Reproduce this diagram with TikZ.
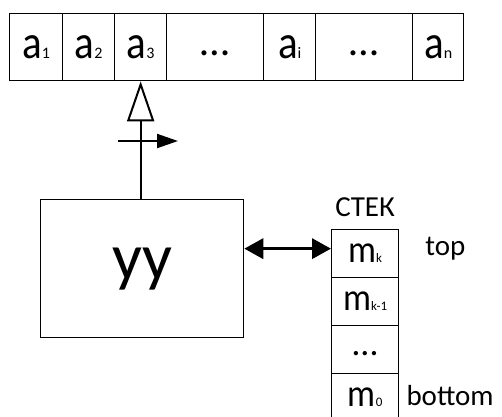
\documentclass[tikz,border=0pt]{standalone}
\usepackage{fontspec}
\setmainfont{Carlito}
\usetikzlibrary{arrows.meta,positioning}
% sized text helper
\newcommand\fsz[2]{{\fontsize{#1}{#1}\selectfont #2}}
% tape symbol: tall letter with small index on the baseline
\newcommand\tapesym[2]{\scalebox{1}[1.15]{\fsz{41}{#1}}\fsz{16}{#2}}
% stack symbol
\newcommand\stacksym[2]{\scalebox{1}[1.1]{\fsz{35}{#1}}\fsz{13}{#2}}
\begin{document}
\begin{tikzpicture}[x=1pt,y=-1pt,
  tapecell/.style={draw, line width=1.3pt, inner sep=0pt, anchor=north west,
    minimum height=67pt, text height=45pt, text depth=22pt},
  stackcell/.style={draw, line width=1.3pt, inner sep=0pt, anchor=north west,
    minimum width=67pt, minimum height=48pt, text height=33pt, text depth=15pt},
  ctrl/.style={draw, line width=1.3pt, inner sep=0pt, anchor=north west,
    minimum width=203pt, minimum height=138pt},
  lbl/.style={inner sep=0pt, font=\fontsize{29}{29}\selectfont},
]
\useasboundingbox (0,0) rectangle (502,416);

% input tape
\node[tapecell, minimum width=53pt] (c1) at (9,13)   {\tapesym{a}{1}};
\node[tapecell, minimum width=52pt] (c2) at (62,13)  {\tapesym{a}{2}};
\node[tapecell, minimum width=52pt] (c3) at (114,13) {\tapesym{a}{3}};
\node[tapecell, minimum width=97pt] (c4) at (166,13) {\raisebox{3.5pt}{\fsz{42}{…}}};
\node[tapecell, minimum width=52pt] (c5) at (263,13) {\tapesym{a}{i}};
\node[tapecell, minimum width=97pt] (c6) at (315,13) {\raisebox{3.5pt}{\fsz{42}{…}}};
\node[tapecell, minimum width=51pt] (c7) at (412,13) {\tapesym{a}{n}};

% control unit
\node[ctrl, font=\fontsize{66}{66}\selectfont] (uu) at (40,199) {уу};

% stack
\node[stackcell] (s1) at (331,229) {\stacksym{m}{k}};
\node[stackcell] (s2) at (331,277) {\stacksym{m}{k-1}};
\node[stackcell] (s3) at (331,325) {\raisebox{3pt}{\fsz{36}{…}}};
\node[stackcell] (s4) at (331,373) {\stacksym{m}{0}};

\node[lbl, above=12pt of s1] (st) {СТЕК};
\node[lbl, anchor=center] (top) at ([xshift=46pt,yshift=5pt]s1.east) {top};
\node[lbl, anchor=west] (bot) at ([xshift=7pt,yshift=2pt]s4.west -| s4.east) {bottom};

% head: reading link to the tape
\draw[line width=2pt, -{Triangle[open, length=40pt, width=27pt, line width=2pt]}]
  (uu.north -| c3.south) -- (c3.south);
\coordinate (h0) at (118,141);
\coordinate (h1) at (178,141);
\draw[line width=2pt, -{Triangle[length=21pt, width=14pt]}] (h0) -- (h1);

% link to the stack
\coordinate (sa) at ([yshift=5pt]s1.west);
\draw[line width=3.5pt, {Triangle[length=19pt, width=20pt]}-{Triangle[length=19pt, width=20pt]}]
  (uu.east |- sa) -- (sa);
\end{tikzpicture}
\end{document}
